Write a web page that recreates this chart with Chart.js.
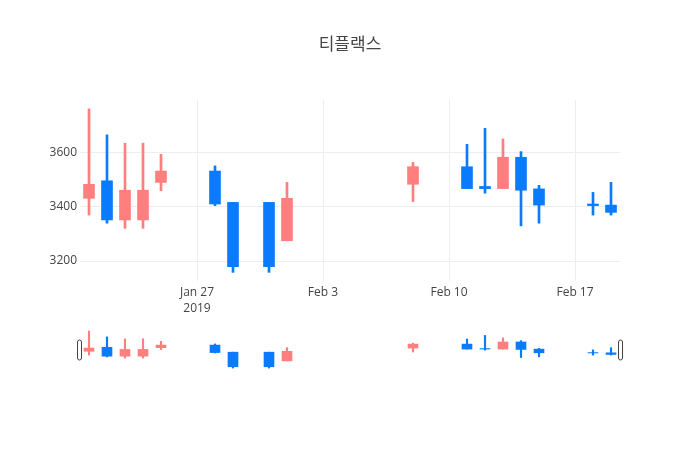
<!DOCTYPE html>
<html><head><meta charset="utf-8">
<script src="https://cdn.jsdelivr.net/npm/chart.js@4/dist/chart.umd.min.js"></script>
<style>
html,body{margin:0;padding:0;background:#fff;width:700px;height:450px;overflow:hidden}
#main{position:absolute;left:0;top:1px}
#mini{position:absolute;left:0;top:329px}
</style></head><body>
<canvas id="main" width="700" height="330"></canvas>
<canvas id="mini" width="700" height="42"></canvas>
<script>
const chartTitle = '티플랙스';
const dates = ['2019-01-21','2019-01-22','2019-01-23','2019-01-24','2019-01-25','2019-01-28','2019-01-29','2019-01-31','2019-02-01','2019-02-08','2019-02-11','2019-02-12','2019-02-13','2019-02-14','2019-02-15','2019-02-18','2019-02-19'];
const openPrices  = [3432,3497,3352,3352,3491,3533,3417,3417,3275,3484,3549,3476,3468,3584,3467,3411,3407];
const closePrices = [3484,3352,3462,3462,3533,3411,3179,3179,3432,3549,3468,3468,3584,3462,3407,3405,3380];
const highPrices  = [3763,3667,3636,3636,3595,3552,3417,3417,3491,3565,3632,3691,3652,3605,3480,3454,3491];
const lowPrices   = [3370,3340,3321,3321,3460,3405,3158,3158,3275,3420,3468,3451,3468,3330,3340,3370,3370];
const xTickDates = ['2019-01-27','2019-02-03','2019-02-10','2019-02-17'];
const xTickLabels = [['Jan 27','2019'],'Feb 3','Feb 10','Feb 17'];
const yTickValues = [3200,3400,3600];
const xRange = ['2019-01-20T12:00:00','2019-02-19T12:00:00'];
const yRange = [3126,3796];

const UP = '#ff7f7f', DOWN = '#0a7bff';
const dayNum = s => Date.parse(s.length === 10 ? s + 'T00:00:00Z' : s + 'Z') / 864e5;
const xs = dates.map(dayNum);
const colors = dates.map((_, i) => closePrices[i] >= openPrices[i] ? UP : DOWN);
const bodies = dates.map((_, i) => ({x: xs[i], y: [openPrices[i], closePrices[i]]}));
const wicks = dates.map((_, i) => ({x: xs[i], y: [lowPrices[i], highPrices[i]]}));

Chart.defaults.font.family = '"Open Sans", "Noto Sans CJK KR", sans-serif';
Chart.defaults.color = '#444';

function datasets(bodyW, wickW) {
  return [
    {data: bodies, backgroundColor: colors, borderWidth: 0, barThickness: bodyW, grouped: false, order: 0},
    {data: wicks, backgroundColor: colors, borderWidth: 0, barThickness: wickW, grouped: false, order: 1}
  ];
}

new Chart(document.getElementById('main'), {
  type: 'bar',
  data: {datasets: datasets(11, 2)},
  options: {
    responsive: false, animation: false,
    layout: {padding: 0},
    plugins: {
      legend: {display: false}, tooltip: {enabled: false},
      title: {display: true, text: chartTitle, color: '#444', font: {size: 17, weight: 'normal'}, padding: {top: 34, bottom: 44.6}}
    },
    scales: {
      x: {
        type: 'linear', offset: false, min: dayNum(xRange[0]), max: dayNum(xRange[1]),
        afterFit: s => { s.height = 50; },
        afterBuildTicks: s => { s.ticks = xTickDates.map(d => ({value: dayNum(d)})); },
        ticks: {callback: (v, i) => xTickLabels[i], maxRotation: 0, autoSkip: false, padding: 3, font: {size: 12, lineHeight: 1.35}, color: '#444'},
        grid: {color: '#eeeeee', drawTicks: false, offset: false},
        border: {display: false}
      },
      y: {
        min: yRange[0], max: yRange[1],
        afterFit: s => { s.width = 80; },
        afterBuildTicks: s => { s.ticks = yTickValues.map(v => ({value: v})); },
        ticks: {callback: v => String(v), padding: 3, font: {size: 12}, color: '#444'},
        grid: {color: '#eeeeee', drawTicks: false},
        border: {display: false}
      },
      spacer: {
        position: 'right', min: 0, max: 1,
        afterFit: s => { s.width = 80; },
        ticks: {display: false}, grid: {display: false}, border: {display: false}
      }
    }
  }
});

const handles = {
  id: 'handles',
  afterDraw(chart) {
    const ctx = chart.ctx, a = chart.chartArea;
    ctx.save();
    ctx.fillStyle = '#fff'; ctx.strokeStyle = '#444'; ctx.lineWidth = 1;
    [a.left - 0.5, a.right + 0.5].forEach(cx => {
      ctx.beginPath();
      ctx.roundRect(cx - 2, 11, 4, 20, 2);
      ctx.fill(); ctx.stroke();
    });
    ctx.restore();
  }
};

new Chart(document.getElementById('mini'), {
  type: 'bar',
  data: {datasets: datasets(10, 1.5)},
  plugins: [handles],
  options: {
    responsive: false, animation: false,
    layout: {padding: {left: 80, right: 80, top: 0, bottom: 1}},
    plugins: {legend: {display: false}, tooltip: {enabled: false}, title: {display: false}},
    scales: {
      x: {type: 'linear', display: false, offset: false, min: dayNum(xRange[0]), max: dayNum(xRange[1])},
      y: {display: false, min: yRange[0], max: yRange[1]}
    }
  }
});
</script>
</body></html>
